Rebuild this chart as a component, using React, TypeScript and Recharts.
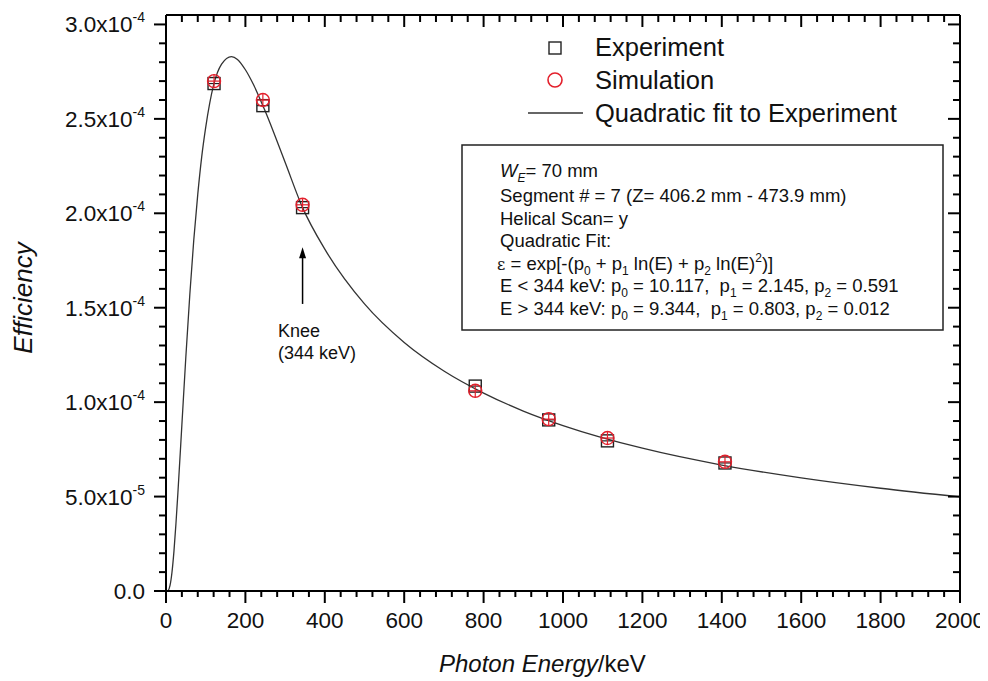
import React from 'react';
import { ComposedChart, Line, Scatter, XAxis, YAxis, ReferenceLine } from 'recharts';

// Measured points (keV, efficiency)
const energies = [121, 244, 344, 779, 964, 1112, 1408];
const experiment = [2.687e-4, 2.57e-4, 2.03e-4, 1.085e-4, 9.06e-5, 7.95e-5, 6.78e-5];
const simulation = [2.7e-4, 2.6e-4, 2.045e-4, 1.06e-4, 9.1e-5, 8.1e-5, 6.84e-5];

// Fit curve
const fitEnergies = [0, 5, 10, 15, 20, 25, 30, 40, 50, 60, 70, 80, 90, 100, 120, 140, 165, 180, 200, 220, 250, 300, 344, 400, 500, 600, 700, 800, 900, 1000, 1200, 1400, 1600, 1800, 2000];
const fitValues = [0, 2e-7, 2.8e-6, 9.8e-6, 2.1e-5, 3.55e-5, 5.2e-5, 8.8e-5, 1.24e-4, 1.57e-4, 1.86e-4, 2.1e-4, 2.3e-4, 2.455e-4, 2.68e-4, 2.79e-4, 2.83e-4, 2.815e-4, 2.76e-4, 2.683e-4, 2.54e-4, 2.27e-4, 2.03e-4, 1.81e-4, 1.52e-4, 1.316e-4, 1.165e-4, 1.048e-4, 9.53e-5, 8.76e-5, 7.56e-5, 6.67e-5, 5.99e-5, 5.44e-5, 4.98e-5];

const xTickLabels = ['0', '200', '400', '600', '800', '1000', '1200', '1400', '1600', '1800', '2000'];
const yTickMantissas = ['0.0', '5.0x10', '1.0x10', '1.5x10', '2.0x10', '2.5x10', '3.0x10'];
const yTickExponents = ['', '-5', '-4', '-4', '-4', '-4', '-4'];

const xTicks = Array.from({ length: 51 }, (_, i) => i * 40);
const yTicks = Array.from({ length: 31 }, (_, i) => i * 1e-5);

const expData = energies.map((x, i) => ({ x, y: experiment[i] }));
const simData = energies.map((x, i) => ({ x, y: simulation[i] }));
const fitData = fitEnergies.map((x, i) => ({ x, y: fitValues[i] }));

const FONT = '"Liberation Sans", Arial, sans-serif';
const TICK_FS = 22.5;

const BottomTick = (props: any) => {
  const { x, y, payload } = props;
  const k = Math.round(payload.value / 40);
  const major = k % 5 === 0;
  return (
    <g>
      <line x1={x} x2={x} y1={y} y2={y + (major ? 12 : 6)} stroke="#000" strokeWidth={2} />
      {major && (
        <text x={x} y={y + 37} textAnchor="middle" fontSize={TICK_FS} fontFamily={FONT} fill="#111">
          {xTickLabels[k / 5]}
        </text>
      )}
    </g>
  );
};

const TopTick = (props: any) => {
  const { x, y, payload } = props;
  const k = Math.round(payload.value / 40);
  const major = k % 5 === 0;
  return <line x1={x} x2={x} y1={y} y2={y + (major ? 12 : 7)} stroke="#000" strokeWidth={2} />;
};

const LeftTick = (props: any) => {
  const { x, y, payload } = props;
  const k = Math.round(payload.value / 1e-5);
  const major = k % 5 === 0;
  const idx = k / 5;
  return (
    <g>
      <line x1={x - (major ? 12 : 7)} x2={x} y1={y} y2={y} stroke="#000" strokeWidth={2} />
      {major && (
        <text x={x - 21} y={y + 8} textAnchor="end" fontSize={TICK_FS} fontFamily={FONT} fill="#111">
          {yTickMantissas[idx]}
          {yTickExponents[idx] && (
            <tspan fontSize={14} dy={-10}>{yTickExponents[idx]}</tspan>
          )}
        </text>
      )}
    </g>
  );
};

const RightTick = (props: any) => {
  const { x, y, payload } = props;
  const k = Math.round(payload.value / 1e-5);
  const major = k % 5 === 0;
  return <line x1={x - (major ? 12 : 7)} x2={x} y1={y} y2={y} stroke="#000" strokeWidth={2} />;
};

const SquareShape = (props: any) => {
  const { cx, cy } = props;
  return (
    <g>
      <rect x={cx - 6} y={cy - 6} width={12} height={12} fill="none" stroke="#222" strokeWidth={1.4} />
      <line x1={cx - 6} x2={cx + 6} y1={cy} y2={cy} stroke="#222" strokeWidth={1.2} />
    </g>
  );
};

const CircleShape = (props: any) => {
  const { cx, cy } = props;
  return (
    <g>
      <circle cx={cx} cy={cy} r={6.5} fill="none" stroke="#e3202c" strokeWidth={1.4} />
      <line x1={cx - 6.5} x2={cx + 6.5} y1={cy} y2={cy} stroke="#e3202c" strokeWidth={1.2} />
      <line x1={cx} x2={cx} y1={cy - 6.5} y2={cy + 6.5} stroke="#e3202c" strokeWidth={1.2} />
    </g>
  );
};

const ArrowShape = (props: any) => {
  const { x1, y1, x2, y2 } = props;
  return (
    <g>
      <line x1={x1} x2={x2} y1={y1} y2={y2 + 8} stroke="#000" strokeWidth={1.5} />
      <polygon points={`${x2},${y2} ${x2 - 3.5},${y2 + 11} ${x2 + 3.5},${y2 + 11}`} fill="#000" />
    </g>
  );
};

type Seg = { t: string; k?: 'sub' | 'sup'; font?: string; size?: number; italic?: boolean };

const RichText = ({ x, y, segs, fontSize }: { x: number; y: number; segs: Seg[]; fontSize: number }) => {
  let cur = 0;
  return (
    <text x={x} y={y} fontSize={fontSize} fill="#111" style={{ whiteSpace: 'pre' }}>
      {segs.map((s, i) => {
        const target = s.k === 'sub' ? 5 : s.k === 'sup' ? -8 : 0;
        const dy = target - cur;
        cur = target;
        return (
          <tspan
            key={i}
            dy={dy}
            fontSize={s.k ? 12 : s.size}
            fontFamily={s.font}
            fontStyle={s.italic ? 'italic' : undefined}
          >
            {s.t}
          </tspan>
        );
      })}
    </text>
  );
};

const boxLines: Seg[][] = [
  [{ t: 'W', italic: true }, { t: 'E', k: 'sub', italic: true }, { t: '= 70 mm' }],
  [{ t: 'Segment # = 7 (Z= 406.2 mm - 473.9 mm)' }],
  [{ t: 'Helical Scan= y' }],
  [{ t: 'Quadratic Fit:' }],
  [
    { t: 'ε', font: '"DejaVu Serif", serif', size: 16 },
    { t: ' = exp[-(p' }, { t: '0', k: 'sub' }, { t: ' + p' }, { t: '1', k: 'sub' },
    { t: ' ln(E) + p' }, { t: '2', k: 'sub' }, { t: ' ln(E)' }, { t: '2', k: 'sup' }, { t: ')]' },
  ],
  [
    { t: 'E < 344 keV: p' }, { t: '0', k: 'sub' }, { t: ' = 10.117,  p' }, { t: '1', k: 'sub' },
    { t: ' = 2.145, p' }, { t: '2', k: 'sub' }, { t: ' = 0.591' },
  ],
  [
    { t: 'E > 344 keV: p' }, { t: '0', k: 'sub' }, { t: ' = 9.344,  p' }, { t: '1', k: 'sub' },
    { t: ' = 0.803, p' }, { t: '2', k: 'sub' }, { t: ' = 0.012' },
  ],
];
const boxBaselines = [169, 194, 217, 239, 262, 284, 307];

export default function App() {
  const boxX = 492;
  return (
    <div style={{ position: 'relative', width: 980, height: 673 }}>
      <ComposedChart
        width={980}
        height={673}
        margin={{ top: 6, right: 27, bottom: 0, left: 8 }}
      >
        <XAxis
          dataKey="x"
          type="number"
          domain={[0, 2000]}
          ticks={xTicks}
          interval={0}
          tickSize={0}
          tickMargin={0}
          tickLine={false}
          tick={<BottomTick />}
          axisLine={{ stroke: '#000', strokeWidth: 2 }}
          height={90}
          allowDataOverflow
        />
        <XAxis
          xAxisId="top"
          dataKey="x"
          orientation="top"
          type="number"
          domain={[0, 2000]}
          ticks={xTicks}
          interval={0}
          tickSize={0}
          tickMargin={0}
          tickLine={false}
          tick={<TopTick />}
          axisLine={{ stroke: '#000', strokeWidth: 2 }}
          height={1}
          allowDataOverflow
        />
        <YAxis
          dataKey="y"
          type="number"
          domain={[0, 3.05e-4]}
          ticks={yTicks}
          interval={0}
          tickSize={0}
          tickMargin={0}
          tickLine={false}
          tick={<LeftTick />}
          axisLine={{ stroke: '#000', strokeWidth: 2 }}
          width={150}
          allowDataOverflow
        />
        <YAxis
          yAxisId="right"
          dataKey="y"
          orientation="right"
          type="number"
          domain={[0, 3.05e-4]}
          ticks={yTicks}
          interval={0}
          tickSize={0}
          tickMargin={0}
          tickLine={false}
          tick={<RightTick />}
          axisLine={{ stroke: '#000', strokeWidth: 2 }}
          width={1}
          allowDataOverflow
        />
        <Line
          xAxisId="top"
          yAxisId="right"
          data={fitData}
          dataKey="y"
          type="monotone"
          stroke="#333"
          strokeWidth={1.3}
          dot={false}
          activeDot={false}
          isAnimationActive={false}
        />
        <Scatter data={expData} dataKey="y" shape={<SquareShape />} isAnimationActive={false} />
        <Scatter data={simData} dataKey="y" shape={<CircleShape />} isAnimationActive={false} />
        <ReferenceLine
          segment={[{ x: 344, y: 1.52e-4 }, { x: 344, y: 1.82e-4 }]}
          shape={<ArrowShape />}
          ifOverflow="visible"
        />
      </ComposedChart>
      <svg
        width={980}
        height={673}
        style={{ position: 'absolute', left: 0, top: 0, pointerEvents: 'none' }}
        fontFamily={FONT}
      >
        {/* axis titles */}
        <text x={431} y={664} fontSize={24} fill="#111">
          <tspan fontStyle="italic">Photon Energy</tspan>/keV
        </text>
        <text
          x={0}
          y={0}
          fontSize={26}
          fontStyle="italic"
          fill="#111"
          textAnchor="middle"
          transform="translate(24,290) rotate(-90)"
        >
          Efficiency
        </text>

        {/* legend */}
        <rect x={541} y={34} width={12} height={12} fill="none" stroke="#222" strokeWidth={1.4} />
        <text x={587} y={48} fontSize={25.5} fill="#111">Experiment</text>
        <circle cx={547} cy={72} r={7} fill="none" stroke="#e3202c" strokeWidth={1.6} />
        <text x={587} y={81} fontSize={25.5} fill="#111">Simulation</text>
        <line x1={520} x2={575} y1={105} y2={105} stroke="#333" strokeWidth={1.3} />
        <text x={587} y={114} fontSize={25.5} fill="#111">Quadratic fit to Experiment</text>

        {/* info box */}
        <rect x={454} y={137} width={481} height={185} fill="#fff" stroke="#222" strokeWidth={1.5} />
        {boxLines.map((segs, i) => (
          <RichText key={i} x={i === 4 ? boxX - 3 : boxX} y={boxBaselines[i]} segs={segs} fontSize={18.5} />
        ))}

        {/* knee annotation */}
        <text x={270} y={329} fontSize={18} fill="#111">Knee</text>
        <text x={270} y={351} fontSize={18} fill="#111">(344 keV)</text>
      </svg>
    </div>
  );
}
